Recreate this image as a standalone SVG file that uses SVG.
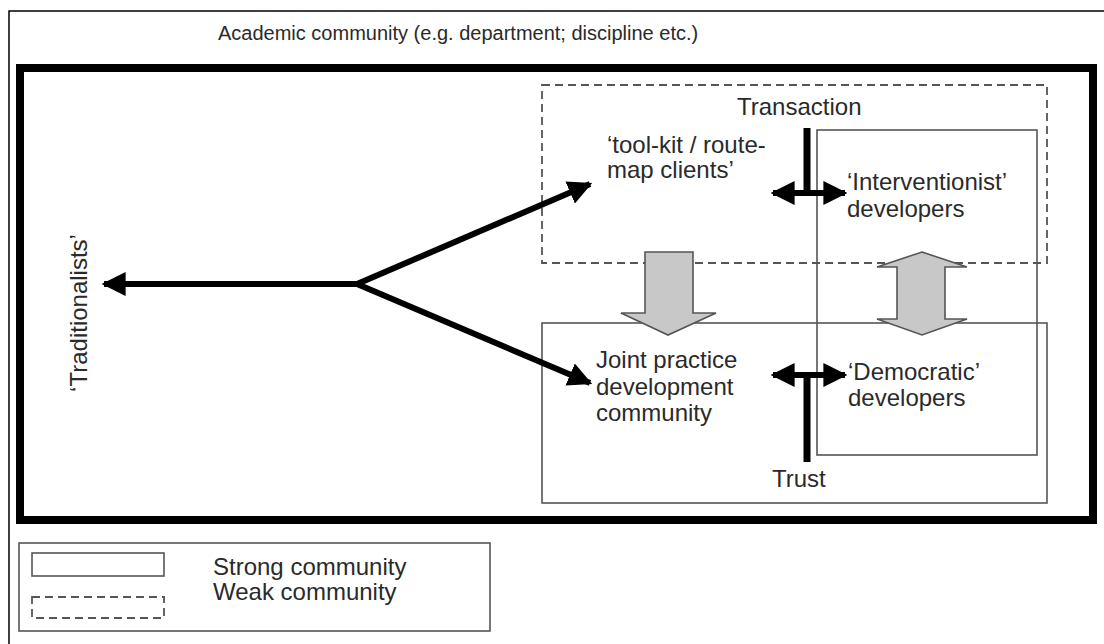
<svg xmlns="http://www.w3.org/2000/svg" width="1104" height="644" viewBox="0 0 1104 644">
<defs>
<style>
text{font-family:"Liberation Sans",Arial,sans-serif;fill:#2a2a2a;font-size:24px;}
.title{font-size:20px;}
.strong{fill:none;stroke:#555;stroke-width:1.6;}
.weak{fill:none;stroke:#555;stroke-width:1.8;stroke-dasharray:8 5;}
.blk{fill:none;stroke:#000;stroke-width:6;}
.bar{fill:none;stroke:#000;stroke-width:7;}
.gray{fill:#c8c8c8;stroke:#555;stroke-width:1.6;stroke-linejoin:miter;}
</style>
<marker id="ah" viewBox="0 0 10 10" refX="9" refY="5" markerWidth="4" markerHeight="4" markerUnits="strokeWidth" orient="auto-start-reverse">
<path d="M0,0 L10,5 L0,10 z" fill="#000"/>
</marker>
</defs>
<rect width="1104" height="644" fill="#fff"/>
<g id="frame">
<rect x="9" y="11" width="1110" height="650" fill="none" stroke="#000" stroke-width="1.5"/>
<text class="title" x="218" y="40">Academic community (e.g. department; discipline etc.)</text>
<rect x="20" y="68" width="1073" height="452" fill="none" stroke="#000" stroke-width="8"/>
</g>
<g id="weak-community">
<rect class="weak" x="542" y="85" width="505" height="178"/>
</g>
<g id="interventionist">
<rect class="strong" x="817" y="130" width="220" height="325"/>
<text x="847" y="190">‘Interventionist’</text>
<text x="847" y="217">developers</text>
</g>
<g id="joint-community">
<rect class="strong" x="542" y="323" width="505" height="180"/>
</g>
<g id="toolkit">
<text x="607" y="153">‘tool-kit / route-</text>
<text x="607" y="178">map clients’</text>
</g>
<g id="joint">
<text x="596" y="368">Joint practice</text>
<text x="596" y="395">development</text>
<text x="596" y="421">community</text>
</g>
<g id="democratic">
<text x="848" y="380">‘Democratic’</text>
<text x="848" y="406">developers</text>
</g>
<g id="traditionalists">
<text transform="translate(87,313) rotate(-90)" text-anchor="middle">‘Traditionalists’</text>
</g>
<g id="transaction">
<text x="737" y="115">Transaction</text>
</g>
<g id="trust">
<text x="772" y="487">Trust</text>
</g>
<g id="connectors">
<line class="blk" x1="357" y1="284" x2="104" y2="284" marker-end="url(#ah)"/>
<line class="blk" x1="357" y1="284" x2="590" y2="184" marker-end="url(#ah)"/>
<line class="blk" x1="357" y1="284" x2="590" y2="383" marker-end="url(#ah)"/>
<line class="bar" x1="807" y1="128" x2="807" y2="193"/>
<line class="blk" x1="773" y1="193" x2="845" y2="193" marker-start="url(#ah)" marker-end="url(#ah)"/>
<line class="bar" x1="807" y1="375" x2="807" y2="462"/>
<line class="blk" x1="773" y1="375" x2="845" y2="375" marker-start="url(#ah)" marker-end="url(#ah)"/>
<polygon class="gray" points="645,252 693,252 693,313 716,313 668,335 621,313 645,313"/>
<polygon class="gray" points="922,252 967,267 945,267 945,319 967,319 922,335 877,319 897,319 897,267 877,267"/>
</g>
<g id="legend">
<rect class="strong" x="19" y="543" width="471" height="88"/>
<rect class="strong" x="32" y="553" width="132" height="23"/>
<rect class="weak" x="32" y="597" width="132" height="21"/>
<text x="213" y="575">Strong community</text>
<text x="213" y="600">Weak community</text>
</g>
</svg>
